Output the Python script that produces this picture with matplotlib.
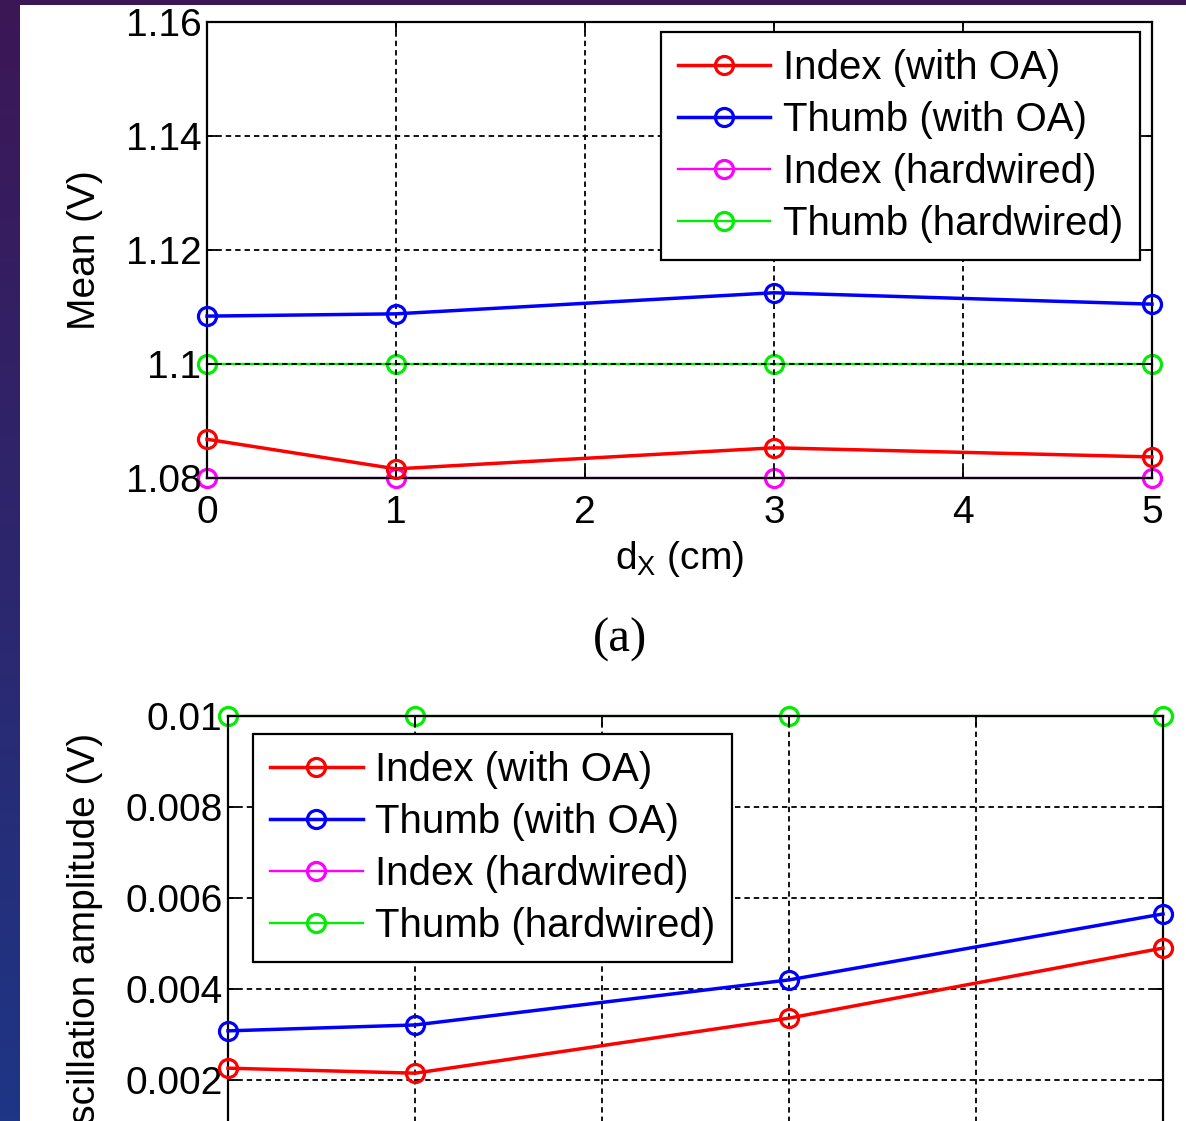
import numpy as np
import matplotlib
matplotlib.use('Agg')
import matplotlib.pyplot as plt
from matplotlib.patches import Rectangle

plt.rcParams['font.family'] = ['Liberation Sans', 'DejaVu Sans']
plt.rcParams['mathtext.fontset'] = 'custom'
plt.rcParams['mathtext.rm'] = 'Liberation Sans'

# data
dx = [0, 1, 3, 5]
labels = ['Index (with OA)', 'Thumb (with OA)', 'Index (hardwired)', 'Thumb (hardwired)']
colors = ['#ff0000', '#0000ff', '#ff00ff', '#00ee00']

mean_index_oa = [1.0868, 1.0816, 1.0853, 1.0837]
mean_thumb_oa = [1.1084, 1.1088, 1.1125, 1.1105]
mean_index_hw = [1.08, 1.08, 1.08, 1.08]
mean_thumb_hw = [1.10, 1.10, 1.10, 1.10]

amp_index_oa = [0.00226, 0.00215, 0.00336, 0.0049]
amp_thumb_oa = [0.00308, 0.00321, 0.0042, 0.00565]
amp_index_hw = [0.0, 0.0, 0.0, 0.0]
amp_thumb_hw = [0.01, 0.01, 0.01, 0.01]

mean_yticks = [1.08, 1.1, 1.12, 1.14, 1.16]
mean_yticklabels = ['1.08', '1.1', '1.12', '1.14', '1.16']
amp_yticks = [0.002, 0.004, 0.006, 0.008, 0.01]
amp_yticklabels = ['0.002', '0.004', '0.006', '0.008', '0.01']

W, H = 1186, 1121
fig = plt.figure(figsize=(W / 100, H / 100), dpi=100)

# slide background: purple -> blue gradient, white panel on top
bg = fig.add_axes([0, 0, 1, 1], zorder=-2)
grad = np.linspace(0, 1, 256).reshape(-1, 1)
top_c = np.array([0x3c, 0x17, 0x56]) / 255
bot_c = np.array([0x1e, 0x36, 0x86]) / 255
img = top_c[None, None, :] * (1 - grad[:, :, None]) + bot_c[None, None, :] * grad[:, :, None]
bg.imshow(img, aspect='auto', extent=[0, 1, 0, 1])
bg.set_axis_off()
fig.add_artist(Rectangle((20 / W, 0), 1 - 20 / W, 1 - 5 / H, transform=fig.transFigure,
                         facecolor='white', edgecolor='none', zorder=-1))


def draw(ax, series, yticks, yticklabels, ylim, leg_loc, leg_anchor):
    for i, (ys, lab, c) in enumerate(zip(series, labels, colors)):
        thin = i >= 2
        ax.plot(dx, ys, color=c, lw=1.7 if thin else 2.5, marker='o', ms=13,
                mfc='none', mec=c, mew=2.3, label=lab, zorder=2 if thin else 3,
                clip_on=False)
    ax.set_xlim(0, 5)
    ax.set_ylim(*ylim)
    ax.set_xticks(range(6))
    ax.set_yticks(yticks)
    ax.set_yticklabels(yticklabels)
    ax.set_axisbelow(False)
    ax.grid(True, color='black', linestyle=(0, (3, 2.2)), linewidth=1.3)
    ax.tick_params(direction='in', length=7, width=1.3, labelsize=28, pad=4,
                   top=True, right=True)
    ax.tick_params(axis='x', pad=12)
    for s in ax.spines.values():
        s.set_linewidth(1.6)
    leg = ax.legend(loc=leg_loc, bbox_to_anchor=leg_anchor, fontsize=29,
                    handlelength=2.3, handletextpad=0.3, labelspacing=0.35,
                    borderpad=0.42, borderaxespad=0, fancybox=False,
                    framealpha=1, edgecolor='black')
    leg.get_frame().set_linewidth(1.6)


ax1 = fig.add_axes([207 / W, 1 - 478 / H, (1152 - 207) / W, (478 - 22) / H])
draw(ax1, [mean_index_oa, mean_thumb_oa, mean_index_hw, mean_thumb_hw],
     mean_yticks, mean_yticklabels, (1.08, 1.16), 'upper right', (0.987, 0.978))
ax1.set_xlabel(r'd$_\mathregular{X}$ (cm)', fontsize=28, labelpad=6)
ax1.set_ylabel('Mean (V)', fontsize=28, labelpad=16)

fig.text(620 / W, 1 - 640 / H, '(a)', fontsize=35, family=['Liberation Serif', 'DejaVu Serif'],
         ha='center', va='center')

ax2 = fig.add_axes([228 / W, 1 - 1171 / H, (1163 - 228) / W, (1171 - 716) / H])
draw(ax2, [amp_index_oa, amp_thumb_oa, amp_index_hw, amp_thumb_hw],
     amp_yticks, amp_yticklabels, (0, 0.01), 'upper left', (0.027, 0.96))
ax2.set_ylabel('Oscillation amplitude (V)', fontsize=28, labelpad=16)

fig.savefig('out.png', dpi=100)
